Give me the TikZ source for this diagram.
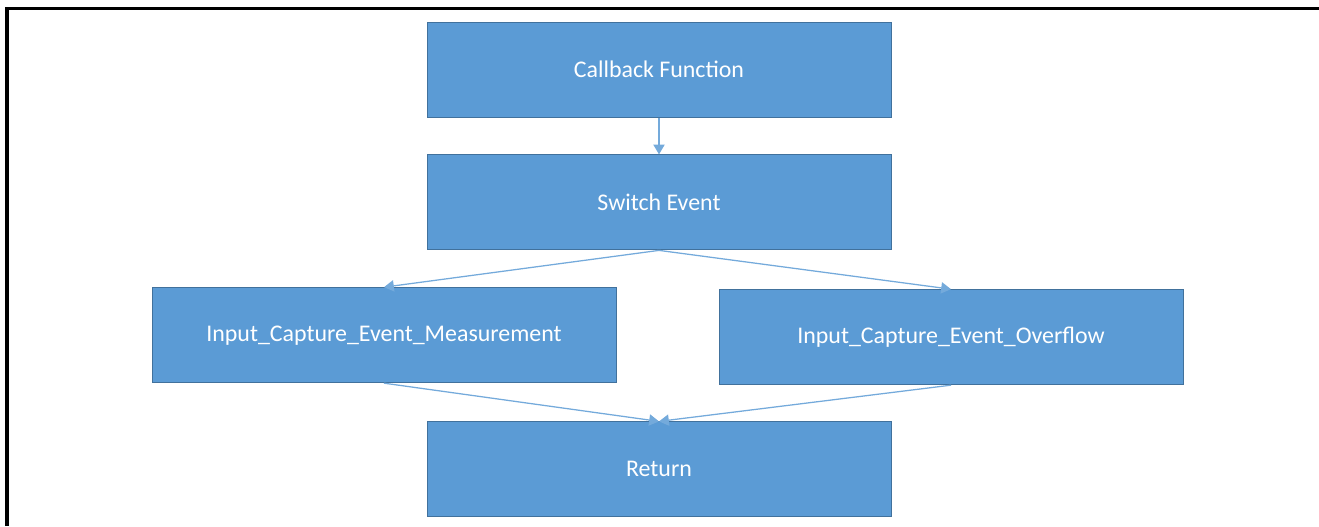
\documentclass[tikz,border=0pt]{standalone}
\usepackage{fontspec}
\setmainfont{Carlito}
\usetikzlibrary{arrows.meta,
                positioning}

\definecolor{boxblue}{HTML}{5B9BD5}
\definecolor{boxedge}{HTML}{41719C}

\begin{document}
\begin{tikzpicture}[
        node distance=0.92cm,
        block/.style={rectangle, minimum width=11.6cm, minimum height=2.375cm, text centered, draw=boxedge, line width=0.7pt, fill=boxblue, text=white, font=\fontsize{17}{20}\selectfont},
        flow/.style={arrows={-Triangle[width=8pt, length=7pt]}, draw=boxblue!85, line width=0.9pt}
        ]

        \useasboundingbox (0,0) rectangle (32.975,-13.15);

        % outer frame (open at right and bottom)
        \draw [line width=2.2pt] (0.175,-13.15) -- (0.175,-0.2125) -- (32.975,-0.2125);

        \node (callback) [block] at (16.475,-1.74)                         {Callback Function};
        \node (switch)   [block, below=of callback]                       {Switch Event};
        \node (measure)  [block, below=of switch, xshift=-6.875cm]        {Input\_Capture\_Event\_Measurement};
        \node (overflow) [block, below=of switch, xshift=7.3cm, yshift=-0.05cm] {Input\_Capture\_Event\_Overflow};
        \node (return)   [block, below=4.275cm of switch]                 {Return};

        \draw [flow] (callback) -- (switch);
        \draw [flow] (switch.south) -- (measure.north);
        \draw [flow] (switch.south) -- (overflow.north);
        \draw [flow] (measure.south) -- (return.north);
        \draw [flow] (overflow.south) -- (return.north);

    \end{tikzpicture}
\end{document}
